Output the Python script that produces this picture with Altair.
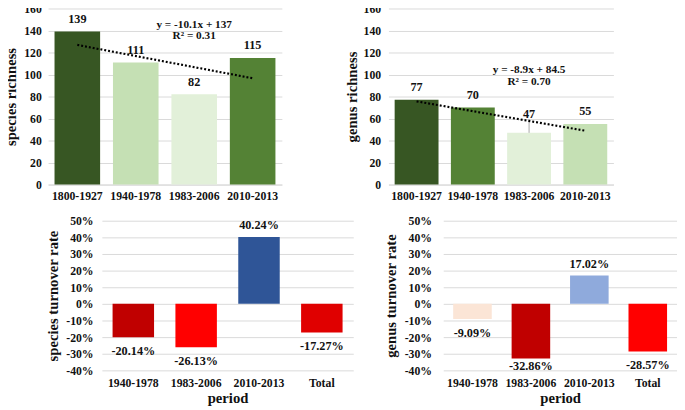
import altair as alt
import pandas as pd

# ---------------- data ----------------
periods_top = ["1800-1927", "1940-1978", "1983-2006", "2010-2013"]
species_richness = [139, 111, 82, 115]
species_colors = ["#375623", "#c5e0b4", "#e2f0d9", "#548235"]
genus_richness = [77, 70, 47, 55]
genus_colors = ["#375623", "#548235", "#e2f0d9", "#c5e0b4"]

# trend-line end values (first and last period), as drawn
species_trend = [126.9, 96.6]
genus_trend = [75.6, 48.9]
species_eq = ["y = -10.1x + 137", "R² = 0.31"]
genus_eq = ["y = -8.9x + 84.5", "R² = 0.70"]

periods_bottom = ["1940-1978", "1983-2006", "2010-2013", "Total"]
species_turnover = [-20.14, -26.13, 40.24, -17.27]
species_turn_colors = ["#c00000", "#ff0000", "#2f5597", "#e00000"]
genus_turnover = [-9.09, -32.86, 17.02, -28.57]
genus_turn_colors = ["#fbe5d6", "#c00000", "#8faadc", "#ff0000"]

FONT = "Liberation Serif"
TXT = "#111111"
GRID = "#d9d9d9"
TICK_FS = 12
TITLE_FS = 15
VAL_FS = 12.5


def top_panel(values, colors, trend, eq, eq_vals, ytitle, width,
              label_pad, title_pad, special=None):
    df = pd.DataFrame({"period": periods_top, "value": values, "color": colors})
    x = alt.X("period:N", sort=periods_top,
              scale=alt.Scale(paddingInner=0.22, paddingOuter=0.11),
              axis=alt.Axis(title=None, labelAngle=0, domain=True, domainColor=GRID,
                            ticks=False, labelPadding=6, labelFontSize=TICK_FS,
                            labelFontWeight="bold", labelColor=TXT, labelFont=FONT))
    y = alt.Y("value:Q", scale=alt.Scale(domain=[0, 160]),
              axis=alt.Axis(values=list(range(0, 161, 20)), title=ytitle, grid=True,
                            gridColor=GRID, domain=False, ticks=False, labelOverlap=False,
                            labelPadding=label_pad, titlePadding=title_pad,
                            labelFontSize=TICK_FS, labelFontWeight="bold", labelColor=TXT,
                            labelFont=FONT, titleFont=FONT, titleFontSize=TITLE_FS,
                            titleFontWeight="bold", titleColor=TXT))
    base = alt.Chart(df)
    bars = base.mark_bar().encode(x=x, y=y, color=alt.Color("color:N", scale=None))
    lab_df = base
    if special is not None:
        lab_df = base.transform_filter(alt.datum.period != special)
    labels = lab_df.mark_text(dy=-13, font=FONT, fontSize=VAL_FS, fontWeight="bold",
                              color=TXT).encode(x=x, y=y, text="value:Q")
    tdf = pd.DataFrame({"period": [periods_top[0], periods_top[-1]], "value": trend})
    trend_line = alt.Chart(tdf).mark_line(color="black", strokeDash=[2, 2],
                                          strokeWidth=2.2).encode(x=x, y=y)
    edf = pd.DataFrame({"period": [periods_top[2]] * 2, "value": eq_vals, "t": eq})
    eq_text = alt.Chart(edf).mark_text(font=FONT, fontSize=11.5, fontWeight="bold",
                                       color=TXT).encode(x=x, y=y, text="t:N")
    layers = [bars, trend_line, labels, eq_text]
    if special is not None:
        sp = base.transform_filter(alt.datum.period == special)
        sdf = pd.DataFrame({"period": [special],
                            "value": [values[periods_top.index(special)]],
                            "top": [59.5]})
        leader = alt.Chart(sdf).mark_rule(color="#a6a6a6", strokeWidth=1).encode(
            x=x, y=y, y2="top:Q")
        slab = sp.mark_text(dy=-19, font=FONT, fontSize=VAL_FS, fontWeight="bold",
                            color=TXT).encode(x=x, y=y, text="value:Q")
        layers = [bars, leader, trend_line, labels, slab, eq_text]
    return alt.layer(*layers).properties(width=width, height=180)


def bottom_panel(values, colors, ytitle, width, label_pad, title_pad, special=None,
                 special_dy=8):
    labels_txt = [f"{v:.2f}%" for v in values]
    df = pd.DataFrame({"period": periods_bottom, "value": values, "color": colors,
                       "lab": labels_txt})
    x = alt.X("period:N", sort=periods_bottom,
              scale=alt.Scale(paddingInner=0.34, paddingOuter=0.17),
              axis=alt.Axis(title="period", labelAngle=0, domain=False, ticks=False,
                            labelPadding=8, labelFontSize=TICK_FS, labelFontWeight="bold",
                            labelColor=TXT, labelFont=FONT, titleFont=FONT,
                            titleFontSize=TITLE_FS, titleFontWeight="bold", titleColor=TXT,
                            titlePadding=2))
    y = alt.Y("value:Q", scale=alt.Scale(domain=[-40, 50]),
              axis=alt.Axis(values=list(range(-40, 51, 10)), title=ytitle, grid=True,
                            gridColor=GRID, domain=False, ticks=False, labelOverlap=False,
                            labelExpr="datum.value + '%'",
                            labelPadding=label_pad, titlePadding=title_pad,
                            labelFontSize=TICK_FS, labelFontWeight="bold", labelColor=TXT,
                            labelFont=FONT, titleFont=FONT, titleFontSize=TITLE_FS,
                            titleFontWeight="bold", titleColor=TXT))
    base = alt.Chart(df)
    bars = base.mark_bar().encode(x=x, y=y, color=alt.Color("color:N", scale=None))
    pos = base.transform_filter(alt.datum.value >= 0).mark_text(
        dy=-12, font=FONT, fontSize=VAL_FS, fontWeight="bold", color=TXT).encode(
        x=x, y=y, text="lab:N")
    negf = alt.datum.value < 0
    if special is not None:
        negf = (alt.datum.value < 0) & (alt.datum.period != special)
    neg = base.transform_filter(negf).mark_text(
        dy=14, font=FONT, fontSize=VAL_FS, fontWeight="bold", color=TXT).encode(
        x=x, y=y, text="lab:N")
    layers = [bars, pos, neg]
    if special is not None:
        spl = base.transform_filter(alt.datum.period == special).mark_text(
            dy=special_dy, font=FONT, fontSize=VAL_FS, fontWeight="bold", color=TXT).encode(
            x=x, y=y, text="lab:N")
        layers.append(spl)
    return alt.layer(*layers).properties(width=width, height=153)


def spacer(w, h):
    return alt.Chart(pd.DataFrame({"a": [0]})).mark_point(opacity=0, size=1).encode(
        x=alt.X("a:Q", axis=None), y=alt.Y("a:Q", axis=None)).properties(width=w, height=h)


tl = top_panel(species_richness, species_colors, species_trend, species_eq, [145, 135],
               "species richness", 239, 7, 5)
tr = top_panel(genus_richness, genus_colors, genus_trend, genus_eq, [104, 93],
               "genus richness", 230, 8, 4, special="1983-2006")
bl = bottom_panel(species_turnover, species_turn_colors, "species turnover rate", 257, 9, 5)
br = bottom_panel(genus_turnover, genus_turn_colors, "genus turnover rate", 239, 12, 6,
                  special="1983-2006")

top_row = alt.hconcat(spacer(1, 1), tl, spacer(64, 1), tr, spacing=0)
bottom_row = alt.hconcat(spacer(44, 1), bl, spacer(31, 1), br, spacing=0)

chart = alt.vconcat(top_row, bottom_row, spacing=14).properties(
    padding={"top": -10, "left": -5, "right": 0, "bottom": 0}
).configure_view(stroke=None)

chart.save("out.html", embed_options={"renderer": "svg", "actions": False})
